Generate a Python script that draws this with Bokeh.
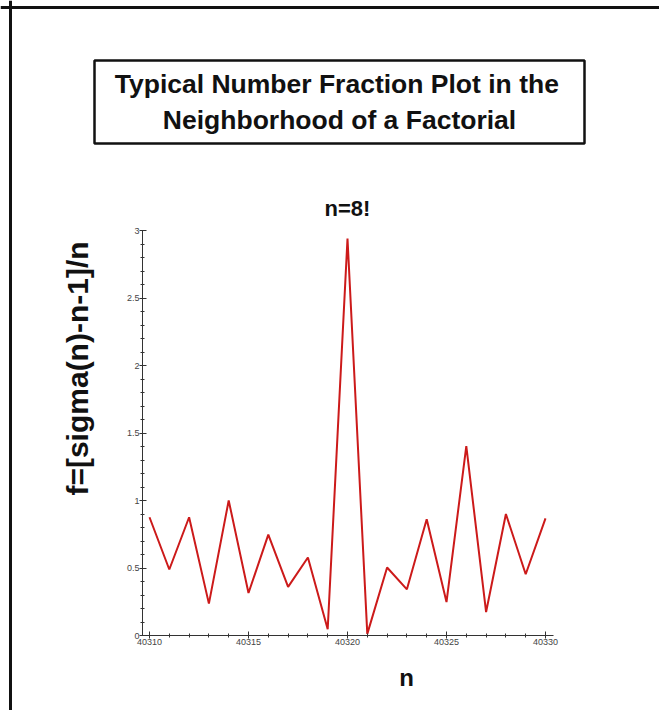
from bokeh.plotting import figure
from bokeh.models import Range1d, FixedTicker, Label, BoxAnnotation, Span
from bokeh.embed import file_html
from bokeh.resources import INLINE

# ---- data ----
n_values = [40310, 40311, 40312, 40313, 40314, 40315, 40316, 40317, 40318, 40319, 40320,
            40321, 40322, 40323, 40324, 40325, 40326, 40327, 40328, 40329, 40330]
f_values = [0.876, 0.489, 0.876, 0.236, 1.000, 0.315, 0.747, 0.360, 0.578, 0.047, 2.940,
            0.012, 0.504, 0.342, 0.861, 0.248, 1.402, 0.174, 0.900, 0.454, 0.868]
x_ticks = [40310, 40315, 40320, 40325, 40330]
x_tick_labels = ["40310", "40315", "40320", "40325", "40330"]
y_ticks = [0, 0.5, 1, 1.5, 2, 2.5, 3]
y_tick_labels = ["0", "0.5", "1", "1.5", "2", "2.5", "3"]
title_lines = ["Typical  Number Fraction Plot in the", "Neighborhood of a Factorial"]
subtitle = "n=8!"
x_label = "n"
y_label = "f=[sigma(n)-n-1]/n"

# ---- layout (canvas pixels) ----
W, H = 659, 710
AX_L, AX_R, AX_T, AX_B = 142, 553, 230, 635   # axis box
X0_PX, X1_PX = 149, 545                        # pixel of first / last x tick
XA, XB = 40310, 40330
YA, YB = 0.0, 3.0

kx = (X1_PX - X0_PX) / (XB - XA)
ky = (AX_B - AX_T) / (YB - YA)
x_start = XA - X0_PX / kx
x_end = x_start + W / kx
y_end = YA + AX_B / ky
y_start = YA - (H - AX_B) / ky
x_axis_lo = XA - (X0_PX - AX_L) / kx
x_axis_hi = XA + (AX_R - X0_PX) / kx

p = figure(width=W, height=H, output_backend="svg", toolbar_location=None,
           x_range=Range1d(x_start, x_end), y_range=Range1d(y_start, y_end),
           min_border_left=0, min_border_right=0, min_border_top=0, min_border_bottom=0)
p.outline_line_color = None
p.outline_line_alpha = 0
p.grid.visible = False
p.background_fill_color = "white"
p.border_fill_color = "white"

p.line(n_values, f_values, line_color="#cc1a1a", line_width=2)

minor_x = [v for v in range(XA, XB + 1) if v not in x_ticks]
minor_y = [round(i * 0.1, 1) for i in range(0, 31) if i % 5 != 0]

xa = p.xaxis[0]
ya = p.yaxis[0]
xa.ticker = FixedTicker(ticks=x_ticks, minor_ticks=minor_x)
xa.major_label_overrides = {t: l for t, l in zip(x_ticks, x_tick_labels)}
xa.fixed_location = YA
xa.bounds = (x_axis_lo, x_axis_hi)
ya.ticker = FixedTicker(ticks=y_ticks, minor_ticks=minor_y)
ya.major_label_overrides = {t: l for t, l in zip(y_ticks, y_tick_labels)}
ya.fixed_location = x_axis_lo
ya.bounds = (YA, YB)

for ax in (xa, ya):
    ax.axis_line_color = "#333333"
    ax.axis_line_width = 1
    ax.major_tick_line_color = "#333333"
    ax.minor_tick_line_color = "#333333"
    ax.major_tick_in = 4
    ax.major_tick_out = 3
    ax.minor_tick_in = 2
    ax.minor_tick_out = 2
    ax.major_label_text_font = "Liberation Sans"
    ax.major_label_text_font_size = "9px"
    ax.major_label_text_color = "#444444"
    ax.major_label_standoff = 0

# outer frame: only its left and top edges are inside the picture
p.add_layout(Span(location=10, location_units="canvas", dimension="height",
                  line_color="#111111", line_width=3))
p.add_layout(Span(location=7, location_units="canvas", dimension="width",
                  line_color="#111111", line_width=3))
# title box
p.add_layout(BoxAnnotation(left=94, right=584, top=60, bottom=143,
                           left_units="canvas", right_units="canvas",
                           top_units="canvas", bottom_units="canvas",
                           fill_alpha=0, line_color="#111111", line_alpha=1, line_width=2.5))

bold = dict(x_units="canvas", y_units="canvas", text_font="Liberation Sans",
            text_font_style="bold", text_color="#111111",
            text_align="center", text_baseline="middle")
p.add_layout(Label(x=340, y=83, text=title_lines[0], text_font_size="26.5px", **bold))
p.add_layout(Label(x=339, y=119, text=title_lines[1], text_font_size="26.5px", **bold))
p.add_layout(Label(x=347, y=208, text=subtitle, text_font_size="22px", **bold))
p.add_layout(Label(x=406, y=677, text=x_label, text_font_size="24px", **bold))
p.add_layout(Label(x=77, y=368, text=y_label, text_font_size="30px", angle=1.5708, **bold))

open("out.html", "w").write(file_html(p, INLINE))
